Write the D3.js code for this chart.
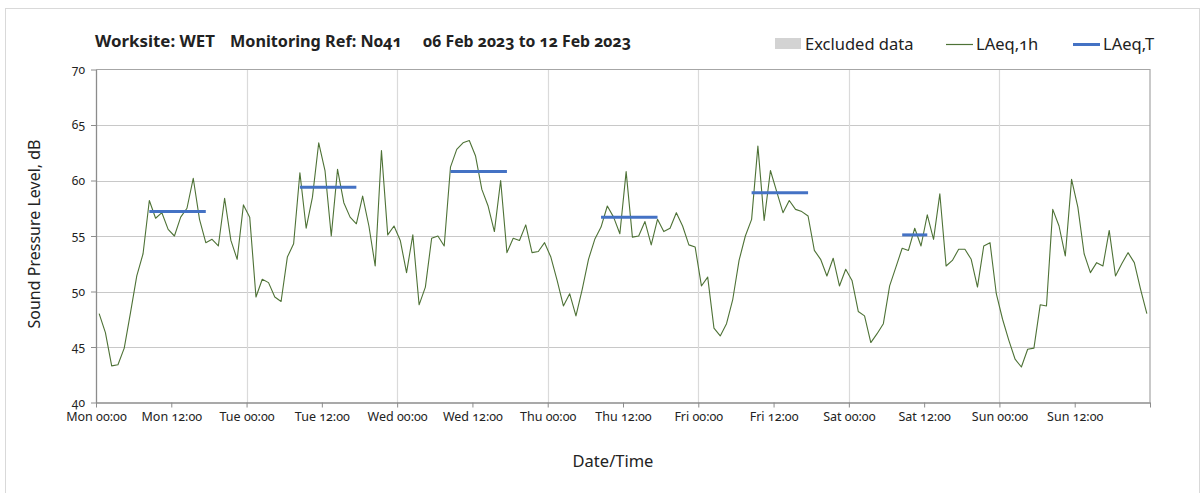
<!DOCTYPE html>
<html>
<head>
<meta charset="utf-8">
<script src="https://cdn.jsdelivr.net/npm/d3@7"></script>
<style>
  html, body { margin: 0; padding: 0; background: #fff; }
  svg text { font-family: "Noto Sans", "Open Sans", sans-serif; font-variant-numeric: oldstyle-nums; fill: #222; }
</style>
</head>
<body>
<svg id="chart" width="1203" height="493"></svg>
<script>
// Hourly LAeq,1h readings, Mon 00:00 through Sun 23:00 (168 hours)
const laeq1h = [
  48.0, 46.3, 43.3, 43.4, 44.9, 48.1, 51.4, 53.4, 58.2, 56.6, 57.1, 55.6,
  55.0, 56.7, 57.5, 60.2, 56.5, 54.4, 54.7, 54.1, 58.4, 54.6, 52.9, 57.8,
  56.7, 49.5, 51.1, 50.8, 49.5, 49.1, 53.1, 54.3, 60.7, 55.7, 58.5, 63.4,
  60.9, 55.0, 61.0, 58.0, 56.7, 56.1, 58.6, 55.9, 52.3, 62.7, 55.1, 55.9,
  54.6, 51.7, 55.1, 48.8, 50.4, 54.8, 55.0, 54.1, 61.2, 62.8, 63.4, 63.6,
  62.2, 59.2, 57.7, 55.4, 60.0, 53.5, 54.8, 54.6, 56.0, 53.5, 53.6, 54.4,
  53.1, 51.0, 48.7, 49.8, 47.8, 50.2, 52.9, 54.7, 55.8, 57.7, 56.7, 55.2,
  60.8, 54.9, 55.0, 56.3, 54.2, 56.5, 55.4, 55.7, 57.1, 55.9, 54.2, 54.0,
  50.5, 51.3, 46.7, 46.0, 47.1, 49.3, 52.8, 55.0, 56.5, 63.1, 56.4, 60.9,
  59.0, 57.1, 58.2, 57.4, 57.2, 56.8, 53.7, 52.9, 51.4, 53.0, 50.5, 52.0,
  51.0, 48.2, 47.8, 45.4, 46.2, 47.1, 50.5, 52.2, 53.9, 53.7, 55.7, 54.1,
  56.9, 54.7, 58.8, 52.3, 52.8, 53.8, 53.8, 52.9, 50.4, 54.1, 54.4, 49.8,
  47.5, 45.6, 43.9, 43.2, 44.8, 44.9, 48.8, 48.7, 57.4, 55.9, 53.2, 60.1,
  57.6, 53.4, 51.7, 52.6, 52.3, 55.5, 51.4, 52.5, 53.5, 52.6, 50.2, 48.0
];

// LAeq,T over each daytime period: first hour, last hour, level
const periodStart = [8, 32, 56, 80, 104, 128];
const periodEnd   = [17, 41, 65, 89, 113, 132];
const periodLevel = [57.2, 59.4, 60.8, 56.7, 58.9, 55.1];

const dayNames = ["Mon", "Tue", "Wed", "Thu", "Fri", "Sat", "Sun"];
const hourLabels = ["00:00", "12:00"];
const yTicks = [40, 45, 50, 55, 60, 65, 70];

const titleParts = ["Worksite: WET", "Monitoring Ref: N041", "06 Feb 2023 to 12 Feb 2023"];
const legendLabels = ["Excluded data", "LAeq,1h", "LAeq,T"];

const svg = d3.select("#chart");
const plot = { left: 96, right: 1150, top: 69.5, bottom: 402.5 };

const GREEN = "#4e7236";
const BLUE = "#4472c4";

// outer frame
svg.append("rect")
  .attr("x", 5.5).attr("y", 8.5).attr("width", 1194).attr("height", 500)
  .attr("fill", "none").attr("stroke", "#d9d9d9").attr("stroke-width", 1);

const x = d3.scaleLinear().domain([0, 168]).range([plot.left, plot.right]);
const y = d3.scaleLinear().domain([40, 70]).range([plot.bottom, plot.top]);

// horizontal gridlines
svg.append("g")
  .selectAll("line")
  .data(yTicks.slice(1, -1))
  .join("line")
  .attr("x1", plot.left).attr("x2", plot.right)
  .attr("y1", d => Math.round(y(d)) + 0.5).attr("y2", d => Math.round(y(d)) + 0.5)
  .attr("stroke", "#c8c8c8").attr("stroke-width", 1.2);

// vertical gridlines at each midnight
svg.append("g")
  .selectAll("line")
  .data(d3.range(24, 168, 24))
  .join("line")
  .attr("x1", d => Math.round(x(d)) + 0.5).attr("x2", d => Math.round(x(d)) + 0.5)
  .attr("y1", plot.top).attr("y2", plot.bottom)
  .attr("stroke", "#dadada").attr("stroke-width", 1.2);

// plot frame (top and right)
svg.append("path")
  .attr("d", `M${plot.left},${plot.top}H${plot.right}V${plot.bottom}`)
  .attr("fill", "none").attr("stroke", "#a6a6a6").attr("stroke-width", 1.2);

// x axis: ticks every 12 hours
const xTickValues = d3.range(0, 169, 12);
const xTickText = d3.range(0, 14).map(k => dayNames[Math.floor(k / 2)] + " " + hourLabels[k % 2]);
const xAxis = d3.axisBottom(x)
  .tickValues(xTickValues)
  .tickSize(5)
  .tickSizeOuter(0)
  .tickFormat((d, i) => i < xTickText.length ? xTickText[i] : "");
const gx = svg.append("g")
  .attr("transform", `translate(0,${plot.bottom})`)
  .call(xAxis);
gx.select(".domain").attr("stroke", "#8c8c8c").attr("stroke-width", 1.3);
gx.selectAll(".tick line").attr("stroke", "#8c8c8c");
gx.selectAll(".tick text")
  .attr("dy", "0.71em").attr("y", 10)
  .style("font-size", "12.5px").style("font-family", "'Noto Sans', sans-serif")
  .attr("fill", "#333");

// y axis
const yAxis = d3.axisLeft(y).tickValues(yTicks).tickSize(5).tickSizeOuter(0).tickFormat(d3.format("d"));
const gy = svg.append("g")
  .attr("transform", `translate(${plot.left},0)`)
  .call(yAxis);
gy.select(".domain").attr("stroke", "#8c8c8c").attr("stroke-width", 1.3);
gy.selectAll(".tick line").attr("stroke", "#8c8c8c");
gy.selectAll(".tick text")
  .attr("x", -11)
  .style("font-size", "12px").style("font-family", "'Noto Sans', sans-serif")
  .attr("fill", "#333");

// LAeq,1h line
const line = d3.line()
  .x((d, i) => x(i + 0.5))
  .y(d => y(d));
svg.append("path")
  .datum(laeq1h)
  .attr("d", line)
  .attr("fill", "none")
  .attr("stroke", GREEN)
  .attr("stroke-width", 1.1)
  .attr("stroke-linejoin", "round");

// LAeq,T period levels
svg.append("g")
  .selectAll("line")
  .data(periodLevel)
  .join("line")
  .attr("x1", (d, i) => x(periodStart[i] + 0.5))
  .attr("x2", (d, i) => x(periodEnd[i] + 0.5))
  .attr("y1", d => y(d)).attr("y2", d => y(d))
  .attr("stroke", BLUE).attr("stroke-width", 3);

// title
const titleX = [95, 230, 423];
const titleW = [120, 172, 208];
svg.append("g")
  .selectAll("text")
  .data(titleParts)
  .join("text")
  .attr("x", (d, i) => titleX[i])
  .attr("y", 47)
  .attr("textLength", (d, i) => titleW[i])
  .attr("lengthAdjust", "spacingAndGlyphs")
  .style("font-size", "16.5px")
  .style("font-weight", "bold")
  .attr("fill", "#111")
  .text(d => d);

// legend
const lg = svg.append("g").style("font-size", "16.5px");
lg.append("rect").attr("x", 775).attr("y", 38).attr("width", 26).attr("height", 11).attr("fill", "#d3d3d3");
lg.append("text").attr("x", 805).attr("y", 50).text(legendLabels[0]);
lg.append("line").attr("x1", 946).attr("x2", 973).attr("y1", 44.5).attr("y2", 44.5)
  .attr("stroke", GREEN).attr("stroke-width", 1.2);
lg.append("text").attr("x", 976).attr("y", 50).text(legendLabels[1]);
lg.append("line").attr("x1", 1073).attr("x2", 1100).attr("y1", 44.5).attr("y2", 44.5)
  .attr("stroke", BLUE).attr("stroke-width", 3);
lg.append("text").attr("x", 1103).attr("y", 50).text(legendLabels[2]);

// axis titles
svg.append("text")
  .attr("x", 613).attr("y", 467)
  .attr("text-anchor", "middle")
  .style("font-size", "16.5px")
  .text("Date/Time");
svg.append("text")
  .attr("transform", "translate(40,234) rotate(-90)")
  .attr("text-anchor", "middle")
  .style("font-size", "16px")
  .text("Sound Pressure Level, dB");
</script>
</body>
</html>
